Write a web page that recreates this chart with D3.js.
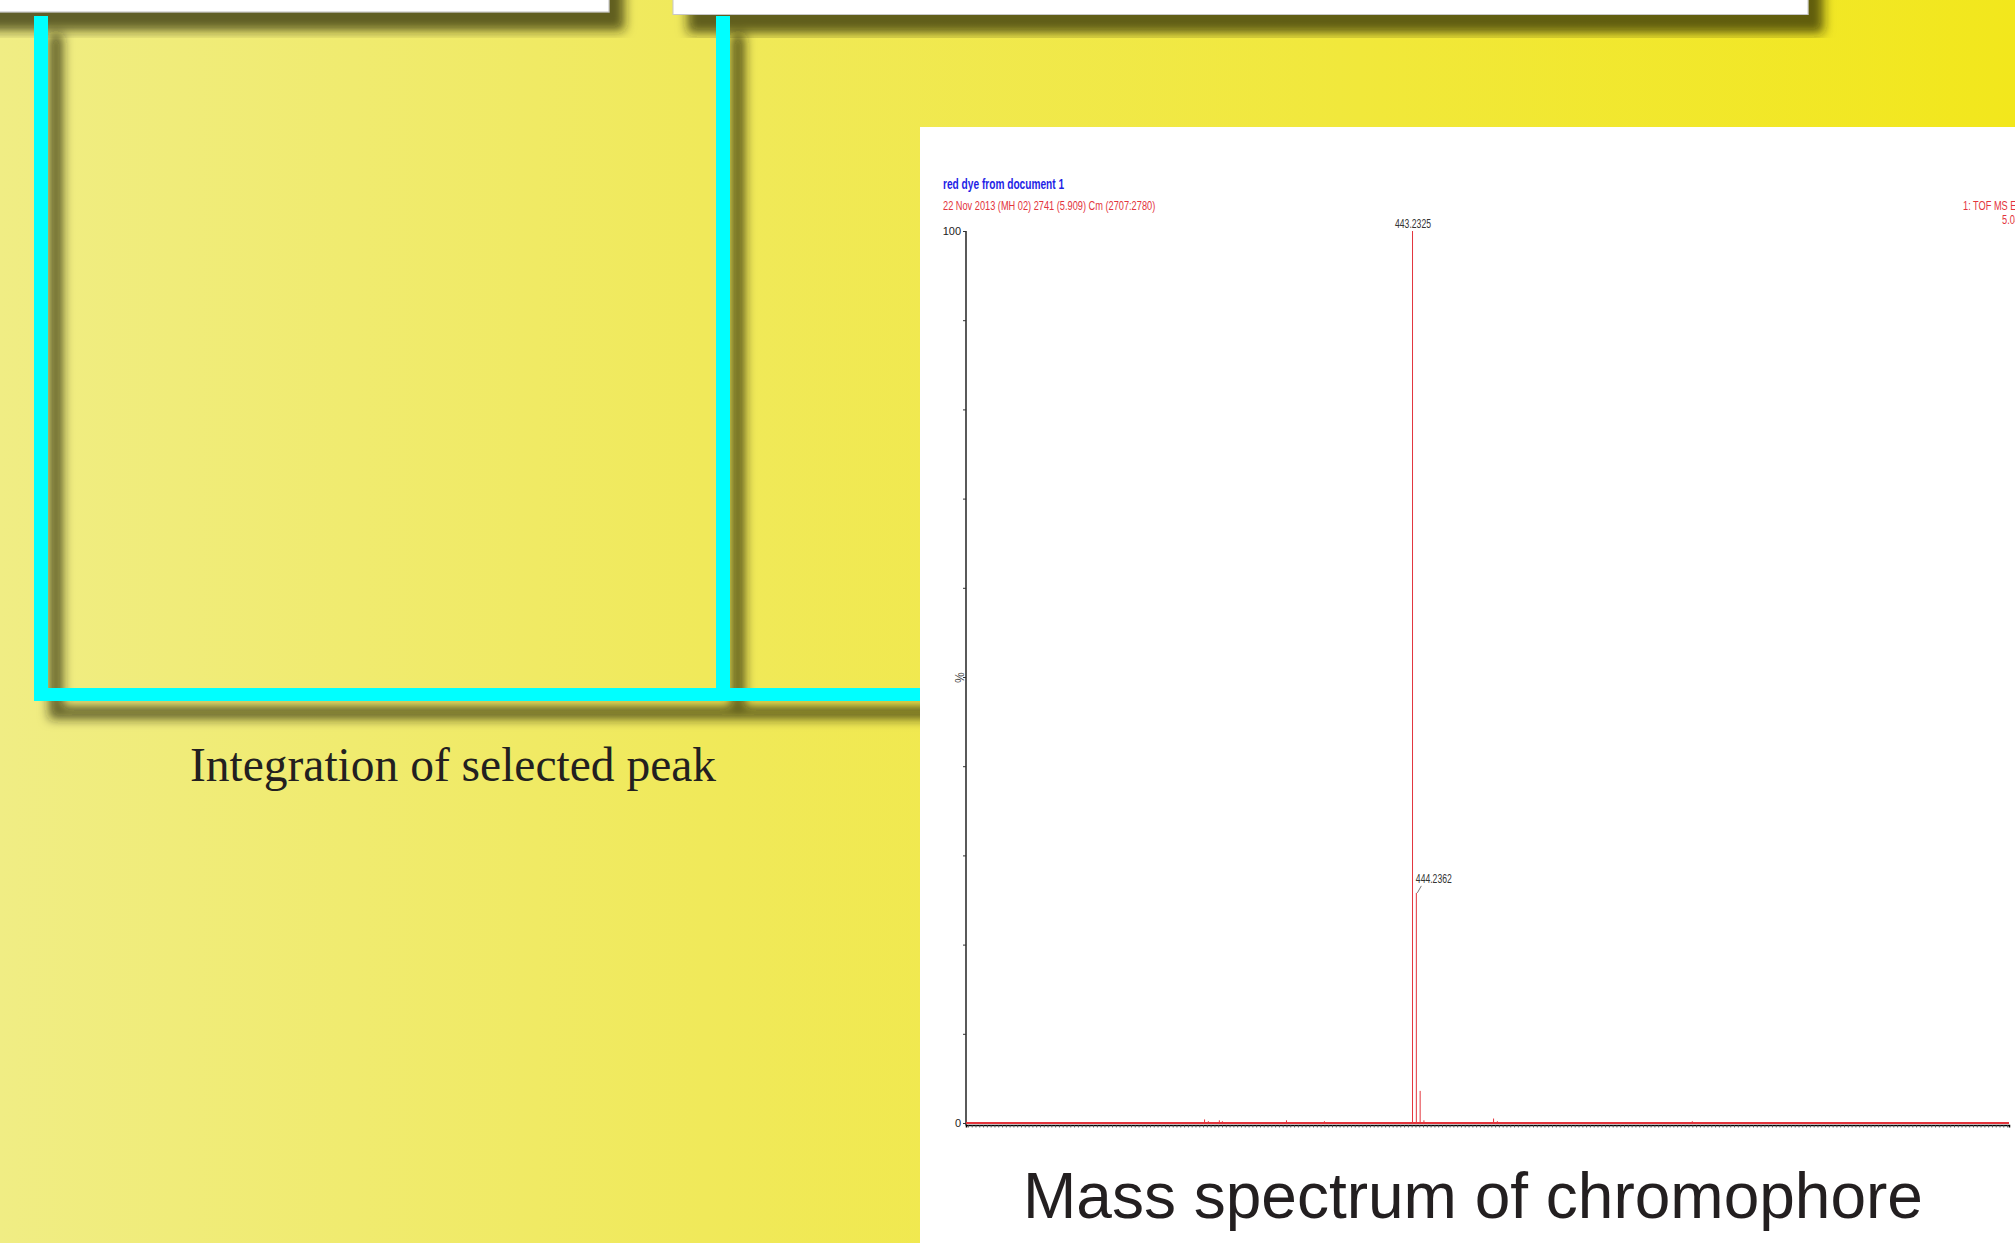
<!DOCTYPE html>
<html>
<head>
<meta charset="utf-8">
<script src="https://cdn.jsdelivr.net/npm/d3@7"></script>
<style>
html, body { margin: 0; padding: 0; overflow: hidden; background: #f0ea60; }
svg { display: block; }
</style>
</head>
<body>
<div id="chart"></div>
<script>
const width = 2015;
const height = 1243;

// spectrum values (m/z, % intensity)
const peak_mz = [388.4, 389.4, 392.3, 393.1, 410.0, 420.0, 443.2325, 444.2362, 445.24, 446.24, 464.6, 465.6, 517.0];
const peak_intensity = [0.4, 0.2, 0.3, 0.2, 0.3, 0.2, 100, 25.8, 3.6, 0.3, 0.5, 0.2, 0.2];
const labelled_peaks = ["443.2325", "444.2362"];
const mz_domain = [325.5, 600.5];
const y_ticks = [0, 10, 20, 30, 40, 50, 60, 70, 80, 90, 100];
const y_tick_labels = ["0", "", "", "", "", "%", "", "", "", "", "100"];

const title_text = "red dye from document 1";
const subtitle_text = "22 Nov 2013 (MH 02) 2741 (5.909) Cm (2707:2780)";
const function_text = ["1: TOF MS ES+", "5.04e3"];
const caption_left = "Integration of selected peak";
const caption_right = "Mass spectrum of chromophore";

const sans = "'Liberation Sans', Arial, sans-serif";
const red = "#e3343c";

var svg = d3.select("#chart")
	.append("svg")
	.attr("width", width)
	.attr("height", height);

var defs = svg.append("defs");

var grad = defs.append("linearGradient")
	.attr("id", "bg")
	.attr("x1", "0%").attr("x2", "100%")
	.attr("y1", "0%").attr("y2", "0%");
grad.append("stop").attr("offset", "0%").attr("stop-color", "#f0ed84");
grad.append("stop").attr("offset", "35%").attr("stop-color", "#f0e95a");
grad.append("stop").attr("offset", "100%").attr("stop-color", "#f2e71c");

var shadow = defs.append("filter")
	.attr("id", "shadow")
	.attr("x", "-20%").attr("y", "-20%")
	.attr("width", "140%").attr("height", "140%");
shadow.append("feDropShadow")
	.attr("dx", 15)
	.attr("dy", 18)
	.attr("stdDeviation", 5.5)
	.attr("flood-color", "#1c1a00")
	.attr("flood-opacity", 0.68);

svg.append("rect")
	.attr("width", width)
	.attr("height", height)
	.attr("fill", "url(#bg)");

// panels cut off at the top of the page
var top_panels = svg.append("g").attr("filter", "url(#shadow)");
top_panels.append("rect")
	.attr("x", -30).attr("y", -100)
	.attr("width", 639).attr("height", 112)
	.attr("fill", "#fff")
	.attr("stroke", "#bdbdbd");
top_panels.append("rect")
	.attr("x", 673).attr("y", -100)
	.attr("width", 1135).attr("height", 114.5)
	.attr("fill", "#fff")
	.attr("stroke", "#c8c8c8");

// cyan connector
var connector = svg.append("g")
	.attr("filter", "url(#shadow)")
	.attr("fill", "#00ffff");
connector.append("rect").attr("x", 34).attr("y", 16).attr("width", 14).attr("height", 685);
connector.append("rect").attr("x", 716).attr("y", 16).attr("width", 14).attr("height", 685);
connector.append("rect").attr("x", 34).attr("y", 688).attr("width", 890).attr("height", 13);

svg.append("text")
	.attr("x", 453)
	.attr("y", 781)
	.attr("text-anchor", "middle")
	.style("font-family", "'Liberation Serif', 'Times New Roman', serif")
	.style("font-size", "47.5px")
	.attr("fill", "#231f20")
	.text(caption_left);

// spectrum panel
svg.append("rect")
	.attr("x", 920).attr("y", 127)
	.attr("width", width - 920).attr("height", height - 127)
	.attr("fill", "#fff");

function narrowText(x, y, str, k, size, color, weight) {
	return svg.append("text")
		.attr("transform", "translate(" + x + "," + y + ") scale(" + k + ",1)")
		.style("font-family", sans)
		.style("font-size", size + "px")
		.style("font-weight", weight || "normal")
		.attr("fill", color)
		.text(str);
}

narrowText(943, 188.5, title_text, 0.7, 14.5, "#1f1fe6", "bold");
narrowText(943, 209.5, subtitle_text, 0.77, 12, red);
narrowText(1963, 209.5, function_text[0], 0.77, 12, red);
narrowText(2002, 223.5, function_text[1], 0.77, 12, red);

var x = d3.scaleLinear().domain(mz_domain).range([966, 2009]);
var y = d3.scaleLinear().domain([0, 100]).range([1123, 231]);

// y axis
var yAxis = svg.append("g")
	.attr("transform", "translate(966,0)")
	.call(d3.axisLeft(y)
		.tickValues(y_ticks)
		.tickSize(3)
		.tickPadding(2)
		.tickFormat(function (d, i) { return y_tick_labels[i]; }));
yAxis.select(".domain").attr("d", "M0," + y(100) + "V" + (y(0) + 2.5)).attr("stroke", "#000").attr("stroke-width", 1.3);
yAxis.selectAll(".tick line").attr("stroke", "#333");
yAxis.selectAll(".tick text")
	.style("font-family", sans)
	.style("font-size", "11px")
	.attr("fill", "#222");
yAxis.selectAll(".tick")
	.filter(function (d) { return d === 50; })
	.select("text")
	.attr("transform", "rotate(90,-7,0)")
	.attr("x", -7).attr("dy", "0.35em")
	.attr("text-anchor", "middle")
	.style("font-size", "12px")
	.attr("fill", "#444");

// x axis with dense minor ticks
var xAxis = svg.append("g")
	.attr("transform", "translate(0," + (y(0) + 2) + ")")
	.call(d3.axisBottom(x)
		.tickValues(d3.range(Math.ceil(mz_domain[0]), mz_domain[1], 1))
		.tickSize(2.5)
		.tickFormat(""));
xAxis.select(".domain").attr("stroke", "#000").attr("stroke-width", 1.5);
xAxis.selectAll(".tick line").attr("stroke", "#444").attr("stroke-width", 0.8);

// red baseline of the trace
svg.append("line")
	.attr("x1", x(mz_domain[0])).attr("x2", x(mz_domain[1]))
	.attr("y1", y(0)).attr("y2", y(0))
	.attr("stroke", red)
	.attr("stroke-width", 2);

var peaks = peak_mz.map(function (m, i) { return { mz: m, v: peak_intensity[i] }; });

svg.append("g")
	.selectAll("line")
	.data(peaks)
	.enter()
	.append("line")
	.attr("x1", function (d) { return x(d.mz); })
	.attr("x2", function (d) { return x(d.mz); })
	.attr("y1", y(0))
	.attr("y2", function (d) { return y(d.v); })
	.attr("stroke", red)
	.attr("stroke-width", 1);

// peak labels
peaks.forEach(function (d) {
	var s = d.mz.toFixed(4);
	if (labelled_peaks.indexOf(s) < 0) return;
	var px = x(d.mz), py = y(d.v);
	if (d.v >= 100) {
		narrowText(px - 17.5, py - 3.5, s, 0.72, 12, "#333");
	} else {
		svg.append("line")
			.attr("x1", px + 1).attr("y1", py)
			.attr("x2", px + 5).attr("y2", py - 7)
			.attr("stroke", "#555")
			.attr("stroke-width", 0.8);
		narrowText(px - 0.5, py - 9.5, s, 0.72, 12, "#333");
	}
});

svg.append("text")
	.attr("x", 1473)
	.attr("y", 1218)
	.attr("text-anchor", "middle")
	.style("font-family", sans)
	.style("font-size", "64px")
	.attr("fill", "#231f20")
	.text(caption_right);
</script>
</body>
</html>
